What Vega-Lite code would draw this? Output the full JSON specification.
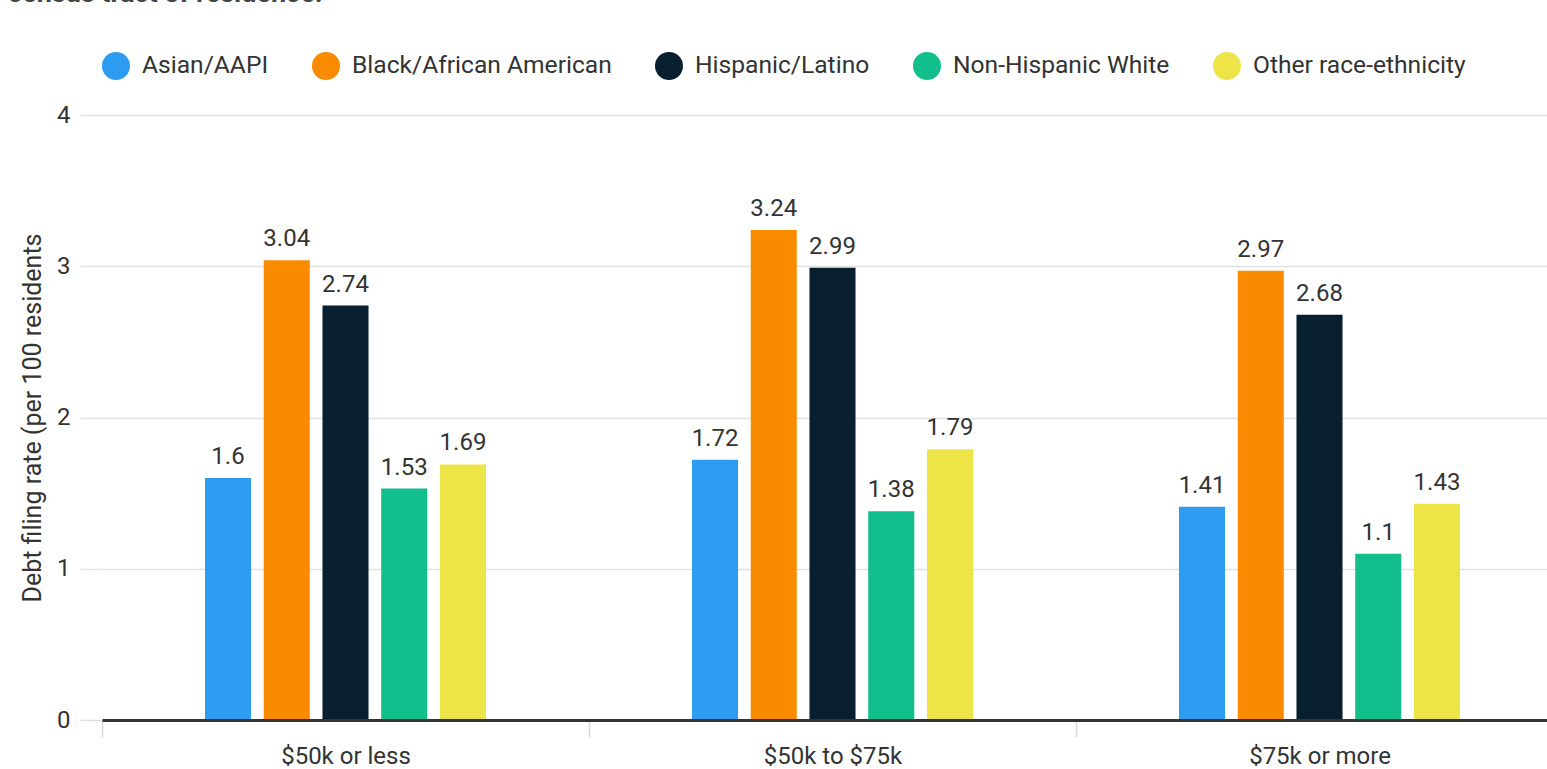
{
  "$schema": "https://vega.github.io/schema/vega-lite/v6.json",
  "width": 1445,
  "height": 605,
  "autosize": {"type": "none"},
  "padding": {"left": 102, "top": 115, "right": 0, "bottom": 49},
  "title": {
    "text": "census tract of residence.",
    "anchor": "start",
    "frame": "group",
    "font": "Roboto",
    "fontSize": 27,
    "fontWeight": "bold",
    "color": "#444444",
    "dx": -94,
    "dy": -40
  },
  "config": {
    "font": "Roboto",
    "view": {"stroke": null},
    "axis": {"labelFont": "Roboto", "titleFont": "Roboto", "labelColor": "#333333", "titleColor": "#333333"}
  },
  "data": {
    "values": [
      {"income": "$50k or less", "group": "Asian/AAPI", "rate": 1.6},
      {"income": "$50k or less", "group": "Black/African American", "rate": 3.04},
      {"income": "$50k or less", "group": "Hispanic/Latino", "rate": 2.74},
      {"income": "$50k or less", "group": "Non-Hispanic White", "rate": 1.53},
      {"income": "$50k or less", "group": "Other race-ethnicity", "rate": 1.69},
      {"income": "$50k to $75k", "group": "Asian/AAPI", "rate": 1.72},
      {"income": "$50k to $75k", "group": "Black/African American", "rate": 3.24},
      {"income": "$50k to $75k", "group": "Hispanic/Latino", "rate": 2.99},
      {"income": "$50k to $75k", "group": "Non-Hispanic White", "rate": 1.38},
      {"income": "$50k to $75k", "group": "Other race-ethnicity", "rate": 1.79},
      {"income": "$75k or more", "group": "Asian/AAPI", "rate": 1.41},
      {"income": "$75k or more", "group": "Black/African American", "rate": 2.97},
      {"income": "$75k or more", "group": "Hispanic/Latino", "rate": 2.68},
      {"income": "$75k or more", "group": "Non-Hispanic White", "rate": 1.1},
      {"income": "$75k or more", "group": "Other race-ethnicity", "rate": 1.43}
    ]
  },
  "encoding": {
    "x": {
      "field": "income",
      "type": "nominal",
      "sort": null,
      "scale": {"range": [0, 1461], "paddingInner": 0, "paddingOuter": 0},
      "axis": {
        "title": null,
        "labelAngle": 0,
        "labelFontSize": 24,
        "labelPadding": 7,
        "tickBand": "extent",
        "tickSize": 17,
        "tickColor": "#d5d9d9",
        "tickWidth": 1.5,
        "domainColor": "#333333",
        "domainWidth": 3,
        "zindex": 1
      }
    },
    "xOffset": {
      "field": "group",
      "type": "nominal",
      "sort": null,
      "scale": {"range": [103, 384], "paddingInner": 0.216, "paddingOuter": 0}
    },
    "y": {
      "field": "rate",
      "type": "quantitative",
      "scale": {"domain": [0, 4], "nice": false},
      "axis": {
        "title": "Debt filing rate (per 100 residents",
        "titleFontSize": 25,
        "titleFontWeight": "normal",
        "titlePadding": 11,
        "values": [0, 1, 2, 3, 4],
        "format": "d",
        "labelFontSize": 24,
        "labelPadding": 10,
        "domain": false,
        "tickSize": 22,
        "tickColor": "#dde1e1",
        "tickWidth": 1.5,
        "gridColor": "#dde1e1",
        "gridWidth": 1.5
      }
    }
  },
  "layer": [
    {
      "mark": {"type": "bar"},
      "encoding": {
        "color": {
          "field": "group",
          "type": "nominal",
          "sort": null,
          "scale": {
            "domain": ["Asian/AAPI", "Black/African American", "Hispanic/Latino", "Non-Hispanic White", "Other race-ethnicity"],
            "range": ["#2d9cf0", "#f88b00", "#071f2f", "#12bf8c", "#ede548"]
          },
          "legend": {
            "title": null,
            "orient": "none",
            "legendX": 0,
            "legendY": -63,
            "direction": "horizontal",
            "symbolType": "circle",
            "symbolSize": 784,
            "symbolStrokeWidth": 0,
            "symbolOpacity": 1,
            "labelFont": "Roboto",
            "labelFontSize": 24.6,
            "labelColor": "#333333",
            "labelOffset": 12,
            "labelLimit": 0,
            "columnPadding": 43,
            "padding": 0
          }
        }
      }
    },
    {
      "mark": {"type": "text", "baseline": "alphabetic", "dy": -14, "font": "Roboto", "fontSize": 24, "color": "#333333"},
      "encoding": {
        "text": {"field": "rate", "type": "quantitative"}
      }
    }
  ]
}
